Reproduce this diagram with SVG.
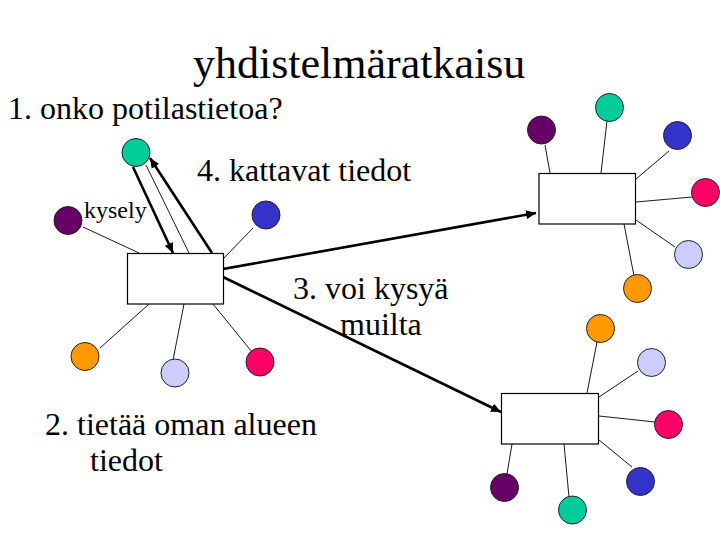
<svg xmlns="http://www.w3.org/2000/svg" width="720" height="540" viewBox="0 0 720 540">
<style>
.lbl{font-family:'Liberation Serif','Times New Roman',serif;fill:#000}
.t32{font-size:32px}
.box{fill:#fff;stroke:#000;stroke-width:1.2}
.dot{stroke:#222;stroke-width:1}
.thin{stroke:#000;stroke-width:0.9;fill:none}
.thick{stroke:#000;stroke-width:2.6;fill:none}
.tl{fill:#00CC99}.pu{fill:#660066}.bl{fill:#3333CC}.rd{fill:#FF0066}.lv{fill:#CCCCFF}.or{fill:#FF9900}
</style>
<defs>
<marker id="ah" markerUnits="userSpaceOnUse" markerWidth="11" markerHeight="9" refX="10" refY="4.5" orient="auto">
<path d="M0,0 L10,4.5 L0,9 Z" fill="#000"/>
</marker>
</defs>
<rect width="720" height="540" fill="#fff"/>
<g id="connectors">
<line class="thin" x1="83" y1="227" x2="139" y2="253"/>
<line class="thin" x1="253" y1="228" x2="224" y2="258"/>
<line class="thin" x1="100" y1="348" x2="149" y2="304"/>
<line class="thin" x1="173" y1="360" x2="184" y2="304"/>
<line class="thin" x1="252" y1="352" x2="213" y2="304"/>
<line class="thin" x1="146" y1="165" x2="189" y2="253"/>
<line class="thick" x1="133" y1="167" x2="173" y2="253" marker-end="url(#ah)"/>
<line class="thick" x1="212" y1="253" x2="150" y2="158" marker-end="url(#ah)"/>
<line class="thick" x1="223" y1="269" x2="536" y2="213" marker-end="url(#ah)"/>
<line class="thick" x1="223" y1="277" x2="501" y2="412" marker-end="url(#ah)"/>
<line class="thin" x1="545" y1="145" x2="550" y2="173"/>
<line class="thin" x1="607" y1="121" x2="601" y2="173"/>
<line class="thin" x1="669" y1="151" x2="636" y2="179"/>
<line class="thin" x1="692" y1="197" x2="636" y2="202"/>
<line class="thin" x1="675" y1="247" x2="636" y2="220"/>
<line class="thin" x1="634" y1="276" x2="624" y2="224"/>
<line class="thin" x1="597" y1="342" x2="587" y2="393"/>
<line class="thin" x1="638" y1="371" x2="599" y2="397"/>
<line class="thin" x1="655" y1="422" x2="599" y2="416"/>
<line class="thin" x1="632" y1="467" x2="599" y2="440"/>
<line class="thin" x1="569" y1="497" x2="564" y2="444"/>
<line class="thin" x1="507" y1="474" x2="512" y2="444"/>
</g>
<g id="box-local"><rect class="box" x="127.5" y="253.5" width="96" height="50.5"/></g>
<g id="box-top-right"><rect class="box" x="539" y="173.5" width="96.5" height="50.5"/></g>
<g id="box-bottom-right"><rect class="box" x="501.5" y="393.5" width="97" height="50.5"/></g>
<g id="nodes-local">
<circle class="dot tl" cx="136" cy="152.5" r="14"/>
<circle class="dot pu" cx="68" cy="220.5" r="14"/>
<circle class="dot bl" cx="266" cy="215" r="14"/>
<circle class="dot or" cx="85" cy="356.5" r="14"/>
<circle class="dot lv" cx="175" cy="373" r="14"/>
<circle class="dot rd" cx="260" cy="362" r="14"/>
</g>
<g id="nodes-top-right">
<circle class="dot pu" cx="541.5" cy="130" r="14"/>
<circle class="dot tl" cx="609.5" cy="107.5" r="14"/>
<circle class="dot bl" cx="677.5" cy="135.5" r="14"/>
<circle class="dot rd" cx="705.5" cy="192.5" r="14"/>
<circle class="dot lv" cx="688.5" cy="254.5" r="14"/>
<circle class="dot or" cx="637.5" cy="288.5" r="14"/>
</g>
<g id="nodes-bottom-right">
<circle class="dot or" cx="600.5" cy="328.5" r="14"/>
<circle class="dot lv" cx="651.5" cy="362.5" r="14"/>
<circle class="dot rd" cx="668.5" cy="424.5" r="14"/>
<circle class="dot bl" cx="640.5" cy="481.5" r="14"/>
<circle class="dot tl" cx="572.5" cy="510" r="14"/>
<circle class="dot pu" cx="504.5" cy="487.5" r="14"/>
</g>
<g id="labels" class="lbl">
<text x="193" y="78" font-size="44">yhdistelmäratkaisu</text>
<text class="t32" x="8" y="119">1. onko potilastietoa?</text>
<text class="t32" x="197" y="181">4. kattavat tiedot</text>
<text x="84" y="218" font-size="24">kysely</text>
<text class="t32" x="293" y="299">3. voi kysyä</text>
<text class="t32" x="340" y="335">muilta</text>
<text class="t32" x="45" y="435">2. tietää oman alueen</text>
<text class="t32" x="90" y="471">tiedot</text>
</g>
</svg>
